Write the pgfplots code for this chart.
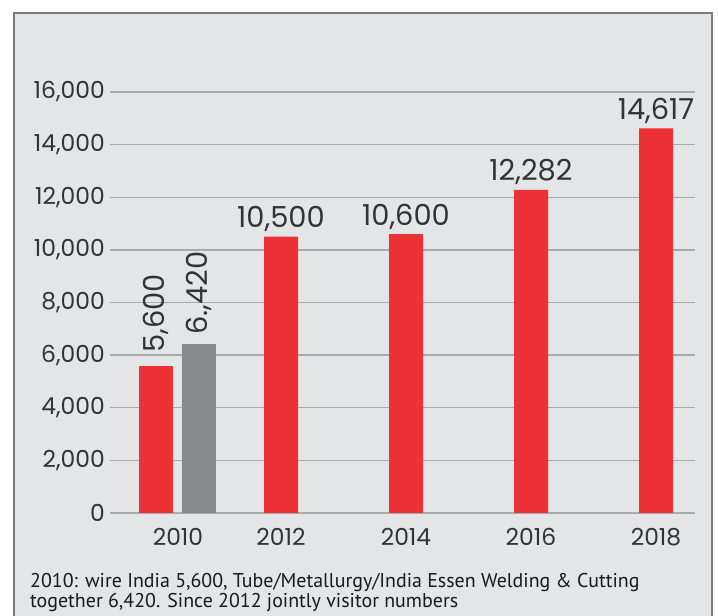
\documentclass[border=0pt]{standalone}
\usepackage{fontspec}
\setmainfont{Poppins}
\newfontfamily\capfont{PT Sans}
\usepackage{pgfplots}
\pgfplotsset{compat=1.18}

\definecolor{bg}{HTML}{E4E5E7}
\definecolor{frame}{HTML}{7B7B7B}
\definecolor{gridc}{HTML}{A9AAAC}
\definecolor{barred}{HTML}{EC3237}
\definecolor{bargrey}{HTML}{87888A}
\definecolor{txt}{HTML}{333333}

\begin{document}
\begin{tikzpicture}
\useasboundingbox (0,0) rectangle (718bp,616bp);
\fill[bg] (14bp,0) rectangle (712bp,603bp);
\draw[frame, line width=2bp] (14bp,-2bp) -- (14bp,603bp) -- (712bp,603bp) -- (712bp,-2bp);

\begin{axis}[
    at={(110bp,103bp)}, anchor=south west,
    scale only axis, width=585bp, height=421bp,
    xmin=110, xmax=695, ymin=0, ymax=16000,
    ybar, bar width=34, bar shift=0pt,
    axis line style={draw=none},
    major tick style={draw=none},
    ytick={0,2000,...,16000},
    scaled y ticks=false,
    ymajorgrids,
    grid style={gridc, line width=1.3bp},
    xtick={178,281,406,531,656},
    xticklabels={2010,2012,2014,2016,2018},
    ticklabel style={font=\fontsize{23.5}{25}\selectfont, text=txt, inner sep=0pt},
    yticklabel style={anchor=east, xshift=-5bp, /pgf/number format/1000 sep={,}, /pgf/number format/assume math mode=true},
    xticklabel style={anchor=north, yshift=-11bp},
    point meta=explicit symbolic,
    nodes near coords,
    every node near coord/.append style={font=\fontsize{29}{31}\selectfont, text=txt, inner sep=0pt},
  ]
  % 2010, wire India
  \addplot[fill=barred, draw=none,
    every node near coord/.append style={yshift=13bp, rotate=90, anchor=west}]
    coordinates {(156,5600)[5,600]};
  % 2010, Tube/Metallurgy/India Essen Welding & Cutting
  \addplot[fill=bargrey, draw=none,
    every node near coord/.append style={yshift=9bp, rotate=90, anchor=west}]
    coordinates {(199,6420)[6.,420]};
  % since 2012, jointly
  \addplot[fill=barred, draw=none,
    every node near coord/.append style={anchor=base, yshift=9bp}]
    coordinates {(281,10500)[10,500] (406,10600)[10,600] (531,12282)[12,282] (656,14617)[14,617]};
\end{axis}

\node[anchor=base west, inner sep=0pt, align=left, text=black!90,
      font=\capfont\fontsize{20}{20}\selectfont] at (30bp,9bp)
  {2010: wire India 5,600, Tube/Metallurgy/India Essen Welding \& Cutting\\
   together 6,420. Since 2012 jointly visitor numbers};
\end{tikzpicture}
\end{document}
